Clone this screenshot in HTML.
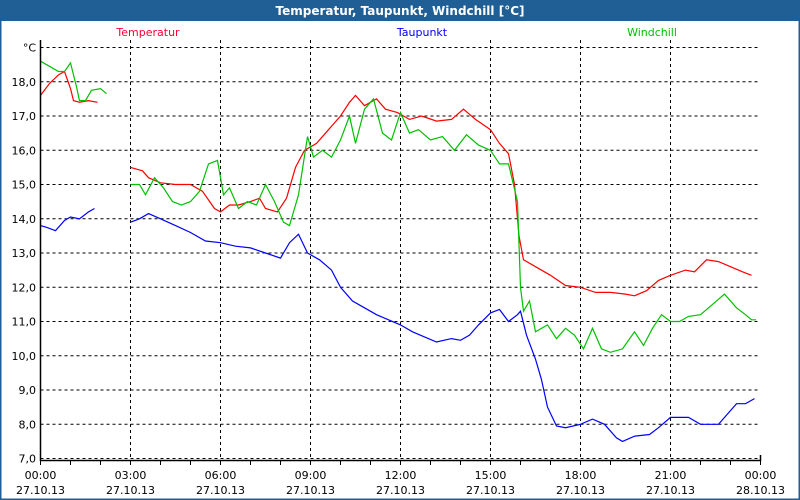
<!DOCTYPE html>
<html><head><meta charset="utf-8"><style>
body{margin:0;background:#fff;}
svg{display:block;font-family:"DejaVu Sans","Liberation Sans",sans-serif;}
</style></head><body>
<svg id="chart" width="800" height="500" xmlns="http://www.w3.org/2000/svg">
<rect x="0" y="0" width="800" height="500" fill="#ffffff" stroke="#1f5f96" stroke-width="3"/>
<rect x="0" y="0" width="800" height="21" fill="#1f5f96"/>
<text x="400" y="15" text-anchor="middle" fill="#fff" font-size="12" font-weight="bold">Temperatur, Taupunkt, Windchill [°C]</text>
<text x="148" y="36" text-anchor="middle" fill="#ff0030" font-size="11">Temperatur</text>
<text x="422" y="36" text-anchor="middle" fill="#0000ff" font-size="11">Taupunkt</text>
<text x="652" y="36" text-anchor="middle" fill="#00c000" font-size="11">Windchill</text>
<g id="grid"></g>
<g id="series"></g>
<g id="axes"></g>
</svg>
<script>
const yTicks=[8,9,10,11,12,13,14,15,16,17,18];
const yTickLabels=["8,0","9,0","10,0","11,0","12,0","13,0","14,0","15,0","16,0","17,0","18,0"];
const xTicks=[0,3,6,9,12,15,18,21,24];
const xTimeLabels=["00:00","03:00","06:00","09:00","12:00","15:00","18:00","21:00","00:00"];
const xDateLabels=["27.10.13","27.10.13","27.10.13","27.10.13","27.10.13","27.10.13","27.10.13","27.10.13","28.10.13"];
// segments: [time(h), value]
const tempSeg1=[[0,17.6],[0.3,17.95],[0.6,18.2],[0.8,18.3],[1.0,17.8],[1.1,17.45],[1.3,17.4],[1.6,17.45],[1.9,17.4]];
const tempSeg2=[[3.0,15.5],[3.4,15.4],[3.6,15.2],[4.0,15.05],[4.5,15.0],[5.0,15.0],[5.4,14.8],[5.8,14.3],[6.0,14.2],[6.3,14.4],[6.6,14.4],[7.0,14.5],[7.3,14.6],[7.5,14.3],[7.9,14.2],[8.2,14.6],[8.5,15.5],[8.8,16.0],[9.2,16.2],[9.6,16.6],[10.0,17.0],[10.3,17.4],[10.5,17.6],[10.8,17.3],[11.2,17.5],[11.5,17.2],[11.9,17.1],[12.3,16.9],[12.7,17.0],[13.2,16.85],[13.7,16.9],[14.1,17.2],[14.5,16.9],[15.0,16.6],[15.3,16.2],[15.6,15.9],[15.8,15.0],[15.95,13.5],[16.1,12.8],[16.5,12.6],[17.0,12.35],[17.5,12.05],[18.0,12.0],[18.5,11.85],[19.0,11.85],[19.5,11.8],[19.8,11.75],[20.2,11.9],[20.6,12.2],[21.0,12.35],[21.5,12.5],[21.8,12.45],[22.2,12.8],[22.6,12.75],[23.0,12.6],[23.4,12.45],[23.7,12.35]];
const dewSeg1=[[0,13.8],[0.2,13.75],[0.5,13.65],[0.8,13.95],[1.0,14.05],[1.3,14.0],[1.6,14.2],[1.8,14.3]];
const dewSeg2=[[3.0,13.9],[3.3,14.0],[3.6,14.15],[4.0,14.0],[4.5,13.8],[5.0,13.6],[5.5,13.35],[6.0,13.3],[6.5,13.2],[7.0,13.15],[7.5,13.0],[8.0,12.85],[8.3,13.3],[8.6,13.55],[8.9,13.0],[9.3,12.8],[9.7,12.5],[10.0,12.0],[10.4,11.6],[10.8,11.4],[11.2,11.2],[11.6,11.05],[12.0,10.9],[12.4,10.7],[12.8,10.55],[13.2,10.4],[13.7,10.5],[14.0,10.45],[14.3,10.6],[14.6,10.9],[15.0,11.25],[15.3,11.35],[15.6,11.0],[15.9,11.2],[16.0,11.3],[16.2,10.6],[16.5,9.9],[16.7,9.3],[16.9,8.5],[17.2,7.95],[17.5,7.9],[18.0,8.0],[18.4,8.15],[18.8,8.0],[19.2,7.6],[19.4,7.5],[19.8,7.65],[20.3,7.7],[20.6,7.9],[21.0,8.2],[21.6,8.2],[22.0,8.0],[22.6,8.0],[22.9,8.3],[23.2,8.6],[23.5,8.6],[23.8,8.75]];
const windSeg1=[[0,18.6],[0.3,18.45],[0.6,18.3],[0.8,18.3],[1.0,18.55],[1.2,17.85],[1.3,17.45],[1.5,17.45],[1.7,17.75],[2.0,17.8],[2.2,17.65]];
const windSeg2=[[3.0,15.0],[3.3,15.0],[3.5,14.7],[3.8,15.2],[4.1,14.9],[4.4,14.5],[4.7,14.4],[5.0,14.5],[5.3,14.8],[5.6,15.6],[5.9,15.7],[6.1,14.7],[6.3,14.9],[6.6,14.3],[6.9,14.5],[7.2,14.4],[7.5,15.0],[7.8,14.5],[8.1,13.9],[8.3,13.8],[8.6,14.7],[8.9,16.4],[9.1,15.8],[9.4,16.0],[9.7,15.8],[10.0,16.3],[10.3,17.0],[10.5,16.2],[10.8,17.2],[11.1,17.5],[11.4,16.5],[11.7,16.3],[12.0,17.1],[12.3,16.5],[12.6,16.6],[13.0,16.3],[13.4,16.4],[13.8,16.0],[14.2,16.45],[14.6,16.15],[15.0,16.0],[15.3,15.6],[15.6,15.6],[15.9,14.5],[16.0,12.0],[16.1,11.3],[16.3,11.6],[16.5,10.7],[16.9,10.9],[17.2,10.5],[17.5,10.8],[17.8,10.6],[18.1,10.2],[18.4,10.8],[18.7,10.2],[19.0,10.1],[19.4,10.2],[19.8,10.7],[20.1,10.3],[20.4,10.8],[20.7,11.2],[21.0,11.0],[21.3,11.0],[21.6,11.15],[22.0,11.2],[22.4,11.5],[22.8,11.8],[23.2,11.4],[23.5,11.2],[23.7,11.05],[23.85,11.05]];

const NS="http://www.w3.org/2000/svg";
const X0=40.5,PXH=30,Y7=458.5,PXU=34.25;
function xs(t){return X0+t*PXH;}
function ys(v){return Y7-(v-7)*PXU;}
function mk(tag,attrs,parent){const e=document.createElementNS(NS,tag);for(const k in attrs)e.setAttribute(k,attrs[k]);parent.appendChild(e);return e;}
const grid=document.getElementById('grid'),axes=document.getElementById('axes'),series=document.getElementById('series');
// horizontal gridlines incl 7 and 19
[7].concat(yTicks,[19]).forEach(v=>{
  const l=mk('line',{x1:X0,x2:760.5,y1:ys(v),y2:ys(v),stroke:'#000','stroke-dasharray':'3,3','stroke-width':1},grid);
  
  
});
xTicks.slice(1,-1).forEach(t=>{
  const l=mk('line',{x1:xs(t),x2:xs(t),y1:40,y2:460,stroke:'#000','stroke-dasharray':'3,3','stroke-width':1},grid);
  
  
});
// axes
const ax=mk('path',{d:`M${X0},40 V460.5 H760.5 V455`,fill:'none',stroke:'#000','stroke-width':1.5},axes);


for(let h=0;h<=24;h++){
  const tk=mk('line',{x1:xs(h),x2:xs(h),y1:460,y2:465,stroke:'#000'},axes);
  
  
}
yTicks.concat([7]).forEach((v,i)=>{
  const lab=v===7?"7,0":yTickLabels[i];
  const t=mk('text',{x:36,y:ys(v)+4,'text-anchor':'end','font-size':11,fill:'#000'},axes);
  t.textContent=lab;
  
  
});
const u=mk('text',{x:36,y:ys(19)+4,'text-anchor':'end','font-size':11,fill:'#000'},axes);
u.textContent='°C';


xTicks.forEach((t,i)=>{
  const a=mk('text',{x:xs(t),y:479,'text-anchor':'middle','font-size':11,fill:'#000'},axes);
  a.textContent=xTimeLabels[i];
  
  
  const b=mk('text',{x:xs(t),y:494,'text-anchor':'middle','font-size':11,fill:'#000'},axes);
  b.textContent=xDateLabels[i];
  
  
});
function line(seg,color,name){
  const d=seg.map((p,i)=>(i?'L':'M')+xs(p[0]).toFixed(1)+','+ys(p[1]).toFixed(1)).join(' ');
  const p=mk('path',{d:d,fill:'none',stroke:color,'stroke-width':1.2},series);
  
  
}
line(tempSeg1,'#ff0000','temperatur-line');
line(tempSeg2,'#ff0000','temperatur-line');
line(dewSeg1,'#0000ff','taupunkt-line');
line(dewSeg2,'#0000ff','taupunkt-line');
line(windSeg1,'#00c000','windchill-line');
line(windSeg2,'#00c000','windchill-line');
</script>
</body></html>
